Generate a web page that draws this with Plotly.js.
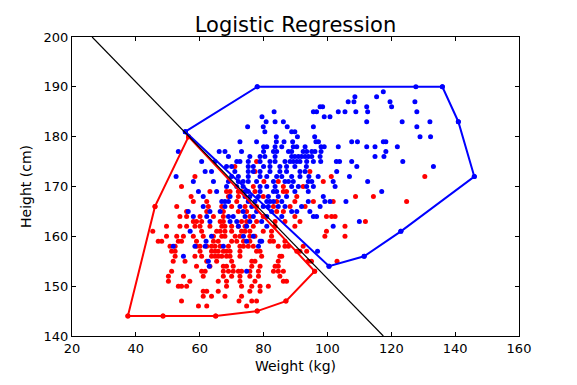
<!DOCTYPE html>
<html>
<head>
<meta charset="utf-8">
<script src="https://cdn.plot.ly/plotly-3.0.1.min.js"></script>
<style>html,body{margin:0;padding:0;background:#fff;}#chart{width:577px;height:385px;}</style>
</head>
<body>
<div id="chart"></div>
<script>
// Blue class points (weight kg, height cm)
const blueWeight = [
78,127.7,136,
117.5,
108.6,115.4,
106.5,108.3,119.6,127.4,
97.7,98.5,112.3,120.1,
83.3,95.6,96.6,103.4,105.5,108.9,112.6,128,
79.5,99,100.8,
80.8,83.6,86.2,112.3,123.4,132.1,141,
75,79.9,87.4,95.6,128,
55.5,80.4,88.8,89.8,
84,90.6,96,129,132.3,
72.6,77.8,84,86.4,89.1,96.4,97.2,107.6,109.4,117.5,118.3,
80,81,83.6,85.7,89.3,90.4,93,98,99,103.4,112.3,114.9,121.9,
53.3,66.1,67.9,73.1,80,83.1,84.1,87.8,88.8,92.4,93.5,95.1,96.1,98,118.3,
69,75.7,78.9,80.4,83.6,88.8,89.8,90.9,91.9,93,94,95.1,97.7,114.9,117.7,
60.6,64.8,71.6,72.6,75.2,78.9,82,83.6,86.7,88.3,89.3,90.4,91.4,93.5,95.6,97.9,102.8,103.8,107.6,123.6,
68.4,70,75.2,76.8,80,82,85.1,87.2,89.8,93.4,109.2,133.2,
61.7,63.7,71,75.2,76.8,78.9,82,85.1,87.2,91.4,93,102.9,
52.6,70,72.1,75.2,78.9,81,84.1,85.7,88.8,91.4,94.2,97.1,106.9,146,
58,64.3,69,72.1,73.6,75.2,77.8,83.1,86.7,87.8,89.3,94,95.1,101.8,112.6,
68.4,71.6,73.6,78.9,81,83.6,88.8,90.9,93.5,95.6,102.4,
59.6,65.3,74.2,75.2,78.9,83.1,84.1,89.8,94,117,
61.1,69.5,74.2,75.7,78.4,81.5,84.6,87.2,98.7,
66.9,67.9,69,75.2,77.3,81,82,83.1,85.7,94,99.2,100.8,105.8,
61.1,67.9,72.6,76.3,79.9,81.5,84.6,86.7,91.9,97.7,
56.4,63.2,66.4,73.6,77.8,82.5,88.8,90.4,94.5,
58,62.2,69,70.5,74.2,76.8,81,85.7,95.6,96.6,
63.2,69.5,71.6,75.7,79.4,110,
72.1,74.7,81,101.8,
57,123,
63.7,73.7,76.8,
62,74.7,78.9,79.4,
51.7,58.5,61.7,67.4,78.4,
96.9,
54.9,111.5,
62.7,
63,100.5,
74.7
];
const blueHeight = [
190,190,190,
189,
188,188,
187,187,187,187,
186,186,186,186,
185,185,185,185,185,185,185,185,
184,184,184,
183,183,183,183,183,183,183,
182,182,182,182,182,
181,181,181,181,
180,180,180,180,180,
179,179,179,179,179,179,179,179,179,179,179,
178,178,178,178,178,178,178,178,178,178,178,178,178,
177,177,177,177,177,177,177,177,177,177,177,177,177,177,177,
176,176,176,176,176,176,176,176,176,176,176,176,176,176,176,
175,175,175,175,175,175,175,175,175,175,175,175,175,175,175,175,175,175,175,175,
174,174,174,174,174,174,174,174,174,174,174,174,
173,173,173,173,173,173,173,173,173,173,173,173,
172,172,172,172,172,172,172,172,172,172,172,172,172,172,
171,171,171,171,171,171,171,171,171,171,171,171,171,171,171,
170,170,170,170,170,170,170,170,170,170,170,
169,169,169,169,169,169,169,169,169,169,
168,168,168,168,168,168,168,168,168,
167,167,167,167,167,167,167,167,167,167,167,167,167,
166,166,166,166,166,166,166,166,166,166,
165,165,165,165,165,165,165,165,165,
164,164,164,164,164,164,164,164,164,164,
163,163,163,163,163,163,
162,162,162,162,
161,161,
160,160,160,
159,159,159,159,
158,158,158,158,158,
157,
156,156,
155,
154,154,
153
];

// Red class points (weight kg, height cm)
const redWeight = [
56.5,
77.8,
71,
77.3,94.5,
58.5,101.2,130.5,
80.1,84.6,98.7,
54.3,76.8,86.2,92.4,
63.2,68.4,69.5,72.1,73.1,77.3,86.2,87.2,
57.3,69,72.1,79.9,90.4,108.8,114.4,
58,62.2,71.6,84.1,89.8,95.6,101.8,124.8,
46,52.8,62.7,66.9,70,74.2,77.8,83.1,88.3,93,
55.9,62.2,67.4,72.1,74.7,84.1,86.2,
53.8,55.9,60.1,64.3,67.4,75.7,79.9,89.8,99.7,101.3,102.4,
58,59,60.6,66.4,67.4,73.1,74.7,77.8,83.6,86.7,91.4,111.9,
49.6,53.8,55.9,58.5,60.1,63.2,66.9,67.9,70,72.1,74.2,76.8,83.6,89.8,105.5,
45.3,60.6,65.3,66.4,67.9,70,73.1,74.2,75.7,79.9,82.5,99.7,
49.6,52.8,54.9,58,61.1,64.3,66.9,67.9,71.1,72.6,75.7,77.3,82.5,99.2,105.5,
47,48.1,53.3,54.3,59,64.3,65.8,70,71.6,73.7,75.7,82,83.1,86.7,
50.7,52.3,59,60.1,62.2,63.7,64.8,66.4,69,72.6,73.7,75.2,76.8,84.6,86.7,87.8,92.4,
51.2,52.3,60.1,63.7,64.8,65.8,67.4,68.4,69.5,72.6,77.8,78.9,90.4,91.4,93.5,
52.3,58.5,60.6,63.7,64.8,65.8,66.9,68.4,69.5,72.6,79.4,85.1,85.7,
51.7,55.4,62.2,65.3,70,76.3,77.3,84.6,94,95,103,
59,63.2,67.4,68.4,70.5,76.3,78.9,83.6,84.6,
51.2,60.6,61.7,67.4,69,70.5,72.1,73.1,75.7,78.4,83.1,84.6,86.2,96,
50.2,54.9,61.1,67.4,70,72.6,75.7,78.4,85.1,
50.2,56.9,65.8,68.4,72.6,77.3,86.2,87.2,
53.3,54.3,55.9,68.4,73.1,76.3,78.9,81.5,
61.1,62.2,65.8,75.7,78.9,
61.1,63.7,67.9,73.1,
54.3,72.3,76.3,77.8,87,
59.6,62.2,74.7,
78,
37.5,48.5,65
];
const redHeight = [
180,
175,
174,
173,173,
172,172,172,
171,171,171,
170,170,170,170,
169,169,169,169,169,169,169,169,
168,168,168,168,168,168,168,
167,167,167,167,167,167,167,167,
166,166,166,166,166,166,166,166,166,166,
165,165,165,165,165,165,165,
164,164,164,164,164,164,164,164,164,164,164,
163,163,163,163,163,163,163,163,163,163,163,163,
162,162,162,162,162,162,162,162,162,162,162,162,162,162,162,
161,161,161,161,161,161,161,161,161,161,161,161,
160,160,160,160,160,160,160,160,160,160,160,160,160,160,160,
159,159,159,159,159,159,159,159,159,159,159,159,159,159,
158,158,158,158,158,158,158,158,158,158,158,158,158,158,158,158,158,
157,157,157,157,157,157,157,157,157,157,157,157,157,157,157,
156,156,156,156,156,156,156,156,156,156,156,156,156,
155,155,155,155,155,155,155,155,155,155,155,
154,154,154,154,154,154,154,154,154,
153,153,153,153,153,153,153,153,153,153,153,153,153,153,
152,152,152,152,152,152,152,152,152,
151,151,151,151,151,151,151,151,
150,150,150,150,150,150,150,150,
149,149,149,149,149,
148,148,148,148,
147,147,147,147,147,
146,146,146,
145,
144,144,144
];

// Convex hull outlines
const blueHullWeight = [55.5, 78, 136, 141, 146, 123, 111.5, 100.5, 55.5];
const blueHullHeight = [181, 190, 190, 183, 172, 161, 156, 154, 181];
const redHullWeight = [56.5, 46, 37.5, 48.5, 65, 78, 87, 96, 56.5];
const redHullHeight = [180, 166, 144, 144, 144, 145, 147, 153, 180];

// Decision boundary end points
const boundaryWeight = [26.3, 117.5];
const boundaryHeight = [200, 140];

const FONT = 'DejaVu Sans, sans-serif';

const traces = [
  {x: redWeight, y: redHeight, type: 'scatter', mode: 'markers',
   marker: {color: '#ff0000', size: 5, line: {width: 0}}, hoverinfo: 'skip'},
  {x: blueWeight, y: blueHeight, type: 'scatter', mode: 'markers',
   marker: {color: '#0000ff', size: 5, line: {width: 0}}, hoverinfo: 'skip'},
  {x: redHullWeight, y: redHullHeight, type: 'scatter', mode: 'lines+markers',
   line: {color: '#ff0000', width: 2}, marker: {color: '#ff0000', size: 5}, hoverinfo: 'skip'},
  {x: blueHullWeight, y: blueHullHeight, type: 'scatter', mode: 'lines+markers',
   line: {color: '#0000ff', width: 2}, marker: {color: '#0000ff', size: 5}, hoverinfo: 'skip'},
  {x: boundaryWeight, y: boundaryHeight, type: 'scatter', mode: 'lines',
   line: {color: '#000000', width: 1.2}, hoverinfo: 'skip'}
];

const axisCommon = {
  showgrid: false, zeroline: false, showline: true, linecolor: '#000', linewidth: 1,
  mirror: 'ticks', ticks: 'inside', ticklen: 4, tickwidth: 1, tickcolor: '#000',
  tickfont: {family: FONT, size: 13, color: '#000'}
};

const layout = {
  width: 577, height: 385,
  margin: {l: 72, r: 58, t: 37, b: 49, pad: 0},
  paper_bgcolor: '#fff', plot_bgcolor: '#fff',
  showlegend: false,
  title: {text: 'Logistic Regression', font: {family: FONT, size: 21, color: '#000'},
          x: 0.5, xref: 'paper', y: 0.935, yref: 'container', yanchor: 'middle'},
  xaxis: Object.assign({}, axisCommon, {
    range: [20, 160], tickvals: [20, 40, 60, 80, 100, 120, 140, 160],
    title: {text: 'Weight (kg)', font: {family: FONT, size: 14, color: '#000'}, standoff: 6}
  }),
  yaxis: Object.assign({}, axisCommon, {
    range: [140, 200], tickvals: [140, 150, 160, 170, 180, 190, 200],
    title: {text: 'Height (cm)', font: {family: FONT, size: 14, color: '#000'}, standoff: 8}
  })
};

Plotly.newPlot('chart', traces, layout, {staticPlot: true, displayModeBar: false});
</script>
</body>
</html>
